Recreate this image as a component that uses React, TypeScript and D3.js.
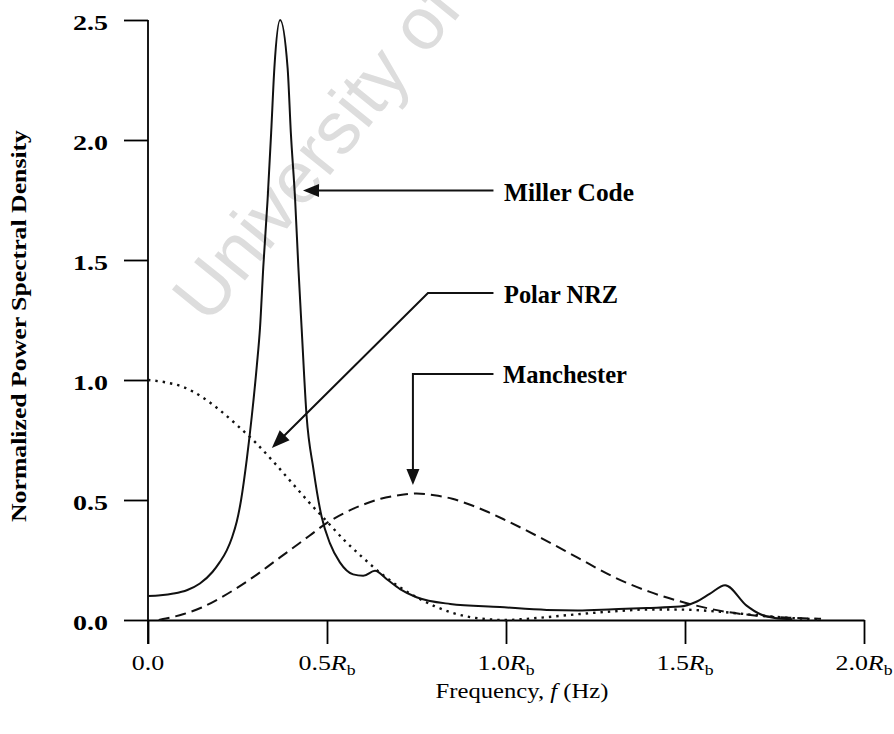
import React, { useEffect, useRef } from "react";
import * as d3 from "d3";

// Frequency in units of Rb, normalized PSD values
const freqPolarNRZ = [0, 0.05, 0.1, 0.15, 0.2, 0.25, 0.3, 0.35, 0.4, 0.45, 0.5, 0.55, 0.6, 0.65, 0.7, 0.75, 0.8, 0.85, 0.9, 0.95, 1.0, 1.05, 1.1, 1.2, 1.3, 1.4, 1.5, 1.6, 1.7, 1.8, 1.88];
const psdPolarNRZ = [1.0, 0.99, 0.97, 0.93, 0.875, 0.81, 0.74, 0.66, 0.575, 0.49, 0.41, 0.33, 0.26, 0.195, 0.14, 0.095, 0.058, 0.03, 0.012, 0.003, 0.0, 0.004, 0.01, 0.024, 0.036, 0.044, 0.043, 0.034, 0.02, 0.008, 0.002];

const freqManchester = [0.03, 0.05, 0.1, 0.15, 0.2, 0.25, 0.3, 0.35, 0.4, 0.45, 0.5, 0.55, 0.6, 0.65, 0.7, 0.75, 0.8, 0.85, 0.9, 0.95, 1.0, 1.1, 1.2, 1.3, 1.4, 1.5, 1.6, 1.7, 1.8, 1.88];
const psdManchester = [0, 0.006, 0.025, 0.052, 0.09, 0.135, 0.185, 0.24, 0.295, 0.35, 0.405, 0.447, 0.48, 0.505, 0.52, 0.527, 0.52, 0.505, 0.48, 0.45, 0.415, 0.34, 0.26, 0.18, 0.118, 0.072, 0.038, 0.018, 0.009, 0.005];

const freqMiller = [0, 0.035, 0.071, 0.11, 0.145, 0.18, 0.2, 0.22, 0.235, 0.248, 0.26, 0.276, 0.29, 0.304, 0.313, 0.322, 0.334, 0.344, 0.353, 0.369, 0.39, 0.399, 0.411, 0.42, 0.429, 0.443, 0.462, 0.485, 0.508, 0.536, 0.573, 0.601, 0.634, 0.667, 0.704, 0.75, 0.844, 0.983, 1.114, 1.2, 1.3, 1.393, 1.486, 1.53, 1.57, 1.612, 1.672, 1.709, 1.75, 1.8];
const psdMiller = [0.1, 0.103, 0.11, 0.125, 0.152, 0.2, 0.24, 0.29, 0.345, 0.41, 0.5, 0.67, 0.85, 1.06, 1.22, 1.47, 1.75, 2.03, 2.3, 2.5, 2.3, 2.03, 1.75, 1.47, 1.22, 0.85, 0.63, 0.43, 0.32, 0.24, 0.19, 0.184, 0.205, 0.17, 0.129, 0.095, 0.067, 0.054, 0.042, 0.04, 0.045, 0.05, 0.056, 0.075, 0.11, 0.145, 0.06, 0.025, 0.008, 0.003];

const yTicks = [0, 0.5, 1.0, 1.5, 2.0, 2.5];
const xTicks = [0, 0.5, 1.0, 1.5, 2.0];
const xTickLabels = ["0.0", "0.5", "1.0", "1.5", "2.0"];

const W = 894;
const H = 734;
const serif = "'Liberation Serif', 'Times New Roman', serif";

export default function App() {
  const xAxisRef = useRef<SVGGElement>(null);
  const yAxisRef = useRef<SVGGElement>(null);

  const x = d3.scaleLinear().domain([0, 2]).range([148, 864]);
  const y = d3.scaleLinear().domain([0, 2.5]).range([620, 20]);

  useEffect(() => {
    const xa = d3.axisBottom(x).tickValues(xTicks).tickSize(24).tickSizeOuter(0).tickFormat(() => "");
    const ya = d3.axisLeft(y).tickValues(yTicks).tickSize(24).tickSizeOuter(0).tickFormat(() => "");
    const gx = d3.select(xAxisRef.current!).call(xa as any);
    const gy = d3.select(yAxisRef.current!).call(ya as any);
    [gx, gy].forEach((g) => {
      g.selectAll("path.domain").attr("stroke", "#000").attr("stroke-width", 1.8);
      g.selectAll(".tick line").attr("stroke", "#000").attr("stroke-width", 1.8);
    });
    // extend the vertical axis below the baseline like the tick marks
    gy.select("path.domain").attr("d", `M0,${y(2.5)}V${y(0) + 24}`);
  }, []);

  const lineOf = (fs: number[], vs: number[]) =>
    d3
      .line<number>()
      .x((_, i) => x(fs[i]))
      .y((v) => y(v))
      .curve(d3.curveMonotoneX)(vs) as string;

  // annotation anchor points in data units
  const millerTip: [number, number] = [0.433, 1.79];
  const millerStart: [number, number] = [0.965, 1.79];
  const polarTip: [number, number] = [0.346, 0.717];
  const polarCorner: [number, number] = [0.782, 1.3625];
  const polarStart: [number, number] = [0.965, 1.3625];
  const manTip: [number, number] = [0.74, 0.5625];
  const manCorner: [number, number] = [0.74, 1.025];
  const manStart: [number, number] = [0.965, 1.025];

  const px = (p: [number, number]) => [x(p[0]), y(p[1])] as [number, number];

  const arrowHead = (from: [number, number], tip: [number, number], len = 16, half = 6.5) => {
    const dx = tip[0] - from[0];
    const dy = tip[1] - from[1];
    const d = Math.hypot(dx, dy);
    const ux = dx / d;
    const uy = dy / d;
    const bx = tip[0] - ux * len;
    const by = tip[1] - uy * len;
    return `${tip[0]},${tip[1]} ${bx - uy * half},${by + ux * half} ${bx + uy * half},${by - ux * half}`;
  };

  const mT = px(millerTip), mS = px(millerStart);
  const pT = px(polarTip), pC = px(polarCorner), pS = px(polarStart);
  const nT = px(manTip), nC = px(manCorner), nS = px(manStart);

  return (
    <svg width={W} height={H} style={{ position: "absolute", left: 0, top: 0, background: "#fff" }}>
      <rect width={W} height={H} fill="#fff" />
      <text
        transform="translate(208,326) rotate(-51)"
        fontFamily="'Liberation Sans', Arial, sans-serif"
        fontSize={74}
        fill="#dddddd"
      >
        University of
      </text>

      <g ref={yAxisRef} transform={`translate(${x(0)},0)`} />
      <g ref={xAxisRef} transform={`translate(0,${y(0)})`} />

      {yTicks.map((t) => (
        <text
          key={t}
          x={108}
          y={y(t) + 10}
          textAnchor="end"
          fontFamily={serif}
          fontWeight="bold"
          fontSize={22}
          textLength={35}
          lengthAdjust="spacingAndGlyphs"
        >
          {t.toFixed(1)}
        </text>
      ))}

      {xTicks.map((t, i) => (
        <text
          key={t}
          transform={`translate(${x(t)},670) scale(1.18,1)`}
          textAnchor="middle"
          fontFamily={serif}
          fontSize={22}
        >
          {xTickLabels[i]}
          {t > 0 && <tspan fontStyle="italic">R</tspan>}
          {t > 0 && (
            <tspan fontSize={15} dy={5}>
              b
            </tspan>
          )}
        </text>
      ))}

      <path d={lineOf(freqPolarNRZ, psdPolarNRZ)} fill="none" stroke="#111" strokeWidth={2.4} strokeDasharray="2.4,5" />
      <path d={lineOf(freqManchester, psdManchester)} fill="none" stroke="#111" strokeWidth={2} strokeDasharray="11,6" />
      <path d={lineOf(freqMiller, psdMiller)} fill="none" stroke="#111" strokeWidth={2} strokeLinejoin="round" />

      {/* Miller Code callout */}
      <line x1={mS[0]} y1={mS[1]} x2={mT[0] + 10} y2={mT[1]} stroke="#111" strokeWidth={2} />
      <polygon points={arrowHead(mS, mT)} fill="#111" />
      {/* Polar NRZ callout */}
      <polyline
        points={`${pS[0]},${pS[1]} ${pC[0]},${pC[1]} ${pT[0] + 8},${pT[1] - 8}`}
        fill="none"
        stroke="#111"
        strokeWidth={2}
      />
      <polygon points={arrowHead(pC, pT, 18, 7)} fill="#111" />
      {/* Manchester callout */}
      <polyline
        points={`${nS[0]},${nS[1]} ${nC[0]},${nC[1]} ${nT[0]},${nT[1] - 10}`}
        fill="none"
        stroke="#111"
        strokeWidth={2}
      />
      <polygon points={arrowHead(nC, nT, 16, 6.5)} fill="#111" />

      <g fontFamily={serif} fontWeight="bold" fontSize={26}>
        <text x={504} y={201} textLength={130} lengthAdjust="spacingAndGlyphs">
          Miller Code
        </text>
        <text x={504} y={303} textLength={114} lengthAdjust="spacingAndGlyphs">
          Polar NRZ
        </text>
        <text x={503} y={383} textLength={124} lengthAdjust="spacingAndGlyphs">
          Manchester
        </text>
      </g>

      <text
        transform="translate(26,326) rotate(-90)"
        textAnchor="middle"
        fontFamily={serif}
        fontWeight="bold"
        fontSize={21}
        textLength={392}
        lengthAdjust="spacingAndGlyphs"
      >
        Normalized Power Spectral Density
      </text>

      <text
        transform="translate(522,698) scale(1.12,1)"
        textAnchor="middle"
        fontFamily={serif}
        fontSize={22}
      >
        Frequency, <tspan fontStyle="italic">f</tspan> (Hz)
      </text>
    </svg>
  );
}
